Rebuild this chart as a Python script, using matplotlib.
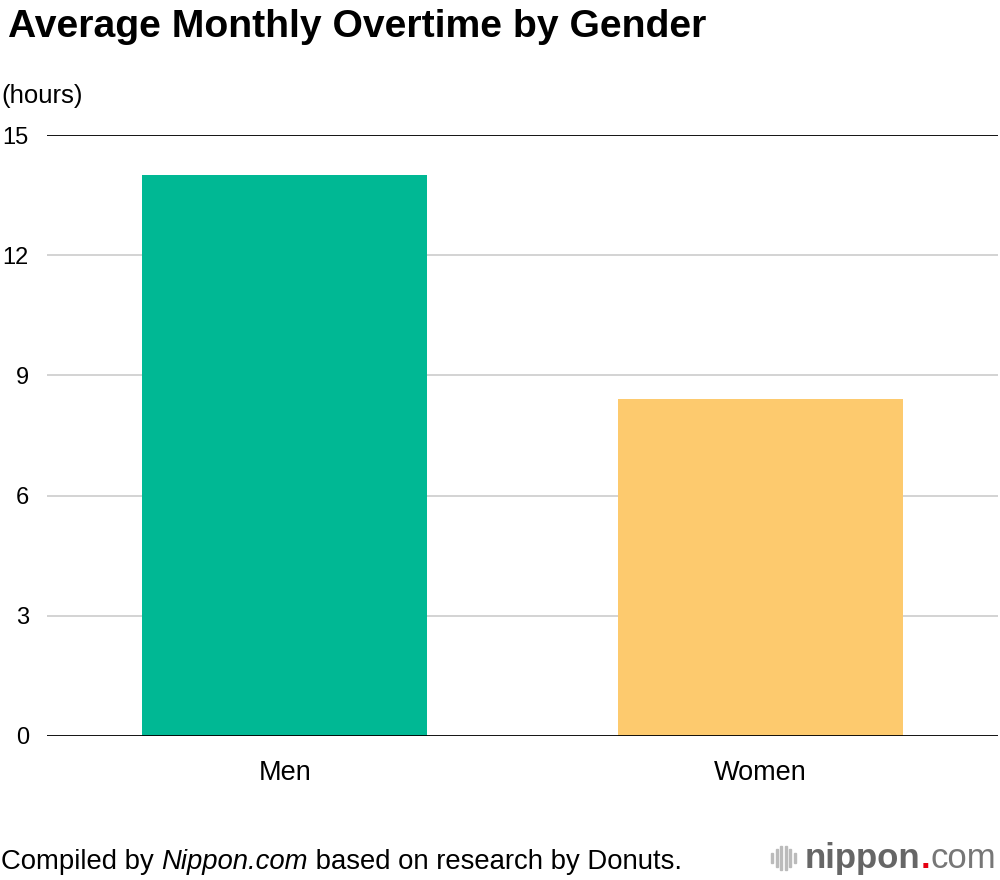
import matplotlib
matplotlib.use("Agg")
import matplotlib.pyplot as plt

categories = ["Men", "Women"]
values = [14.0, 8.4]
colors = ["#00b894", "#fdca6e"]
yticks = [0, 3, 6, 9, 12, 15]

plt.rcParams['font.family'] = ['Liberation Sans', 'DejaVu Sans']

fig = plt.figure(figsize=(10, 8.8), dpi=100)
ax = fig.add_axes([0.047, 1 - 736/880, 0.951, (736 - 135)/880])

ax.bar(range(len(categories)), values, width=0.6, color=colors, zorder=3)
ax.set_xlim(-0.5, 1.5)
ax.set_ylim(0, 15)
ax.set_yticks(yticks)
ax.set_yticklabels([str(t) for t in yticks], fontsize=17)
ax.set_xticks(range(len(categories)))
ax.set_xticklabels(categories, fontsize=19.5)
for t in yticks:
    if t in (0, 15):
        ax.axhline(t, color="black", lw=1.3, zorder=4)
    else:
        ax.axhline(t, color="#cccccc", lw=1.2, zorder=1)
for s in ax.spines.values():
    s.set_visible(False)
ax.tick_params(axis="both", length=0)
ax.tick_params(axis="y", pad=13)
ax.tick_params(axis="x", pad=17)

fig.text(0.008, 1 - 27/880, "Average Monthly Overtime by Gender", fontsize=28.2,
         fontweight="bold", va="center", ha="left")
fig.text(0.001, 1 - 96/880, "(hours)", fontsize=18.5, va="center", ha="left")
# footer with italic part
fy = 1 - 862/880
fs = 19.8
t1 = fig.text(0.001, fy, "Compiled by ", fontsize=fs, va="center", ha="left")
fig.canvas.draw()
r = fig.canvas.get_renderer()
bb = t1.get_window_extent(r)
t2 = fig.text(bb.x1 / 1000, fy, "Nippon.com", fontsize=fs, style="italic", va="center", ha="left")
bb2 = t2.get_window_extent(r)
fig.text(bb2.x1 / 1000, fy, " based on research by Donuts.", fontsize=fs, va="center", ha="left")

# logo
ly = 1 - 858/880
for i, h in enumerate([0.012, 0.020, 0.028, 0.028, 0.020, 0.012]):
    fig.patches.append(plt.Rectangle((0.771 + i*0.0045, ly - h/2), 0.0022, h,
                                     transform=fig.transFigure, color="#bbbbbb"))
tn = fig.text(0.805, ly, "nippon", fontsize=25, fontweight="bold", color="#666666",
              va="center", ha="left")
bbn = tn.get_window_extent(r)
td = fig.text(bbn.x1/1000, ly, ".", fontsize=25, fontweight="bold", color="#e60012",
              va="center", ha="left")
bbd = td.get_window_extent(r)
fig.text(bbd.x1/1000, ly, "com", fontsize=25, color="#777777", va="center", ha="left")

fig.savefig("out.png", dpi=100)
